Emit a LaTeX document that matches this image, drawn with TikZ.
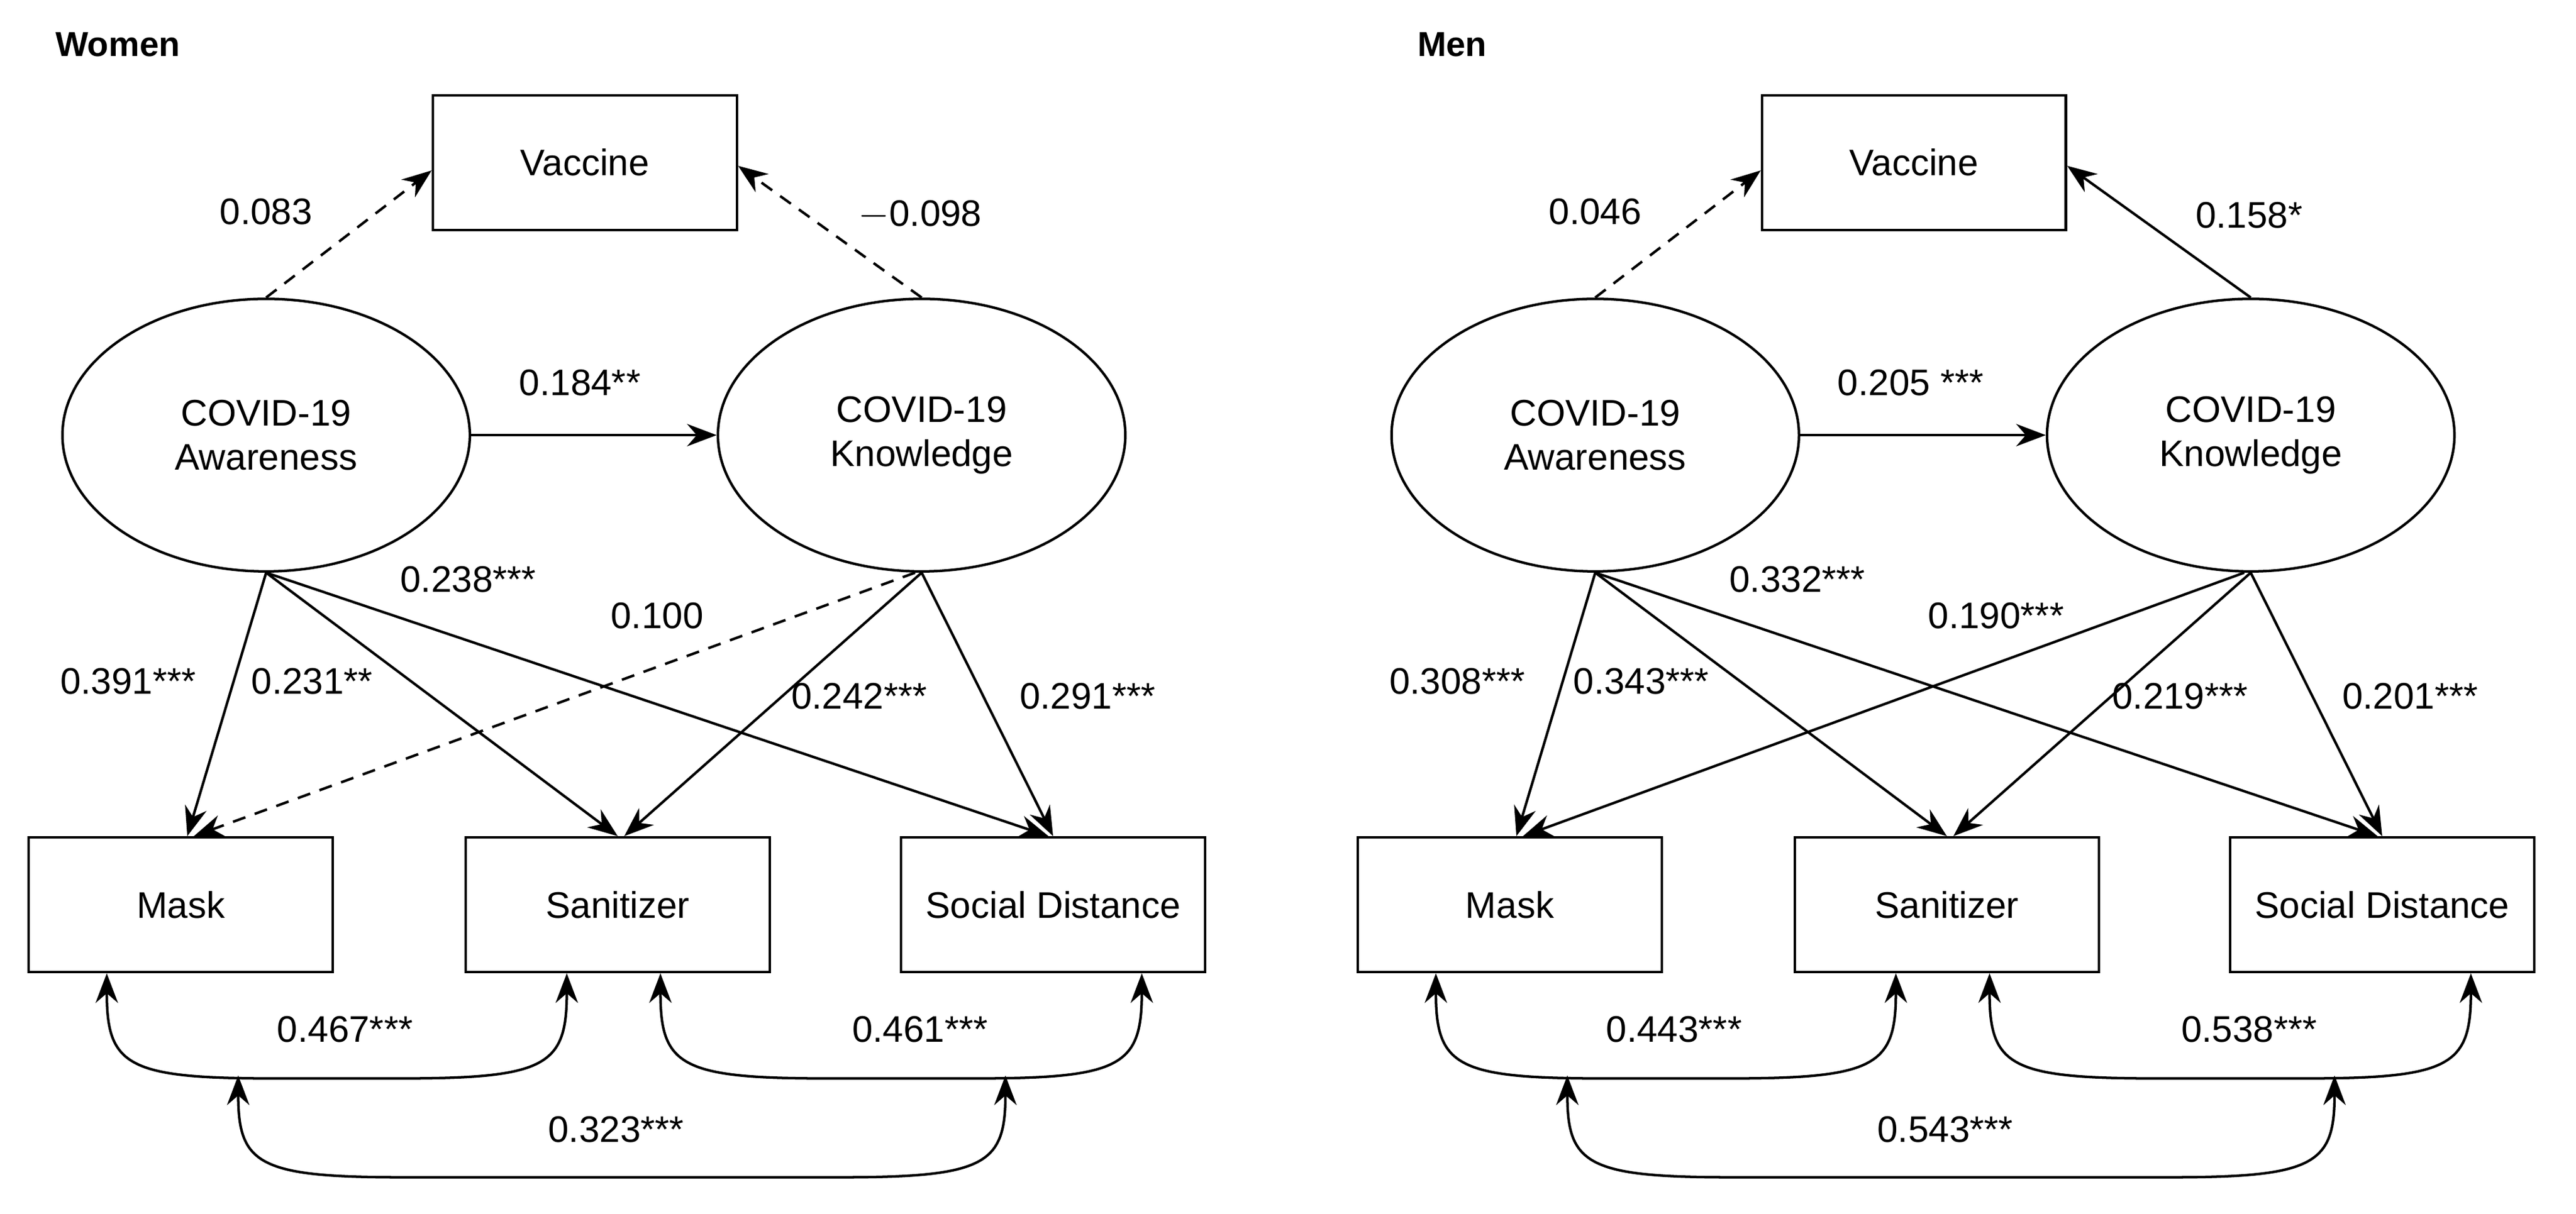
\documentclass[tikz,border=0pt]{standalone}
\usepackage{fontspec}
\setmainfont{Liberation Sans}
\usetikzlibrary{shapes.geometric,arrows.meta}
\begin{document}
\begin{tikzpicture}[x=0.25mm,y=-0.25mm,
  font=\fontsize{16}{19}\selectfont,
  every path/.style={line width=1.1pt},
  box/.style={draw,minimum width=46.25mm,minimum height=20.5mm,inner sep=0pt},
  lat/.style={draw,ellipse,minimum width=62mm,minimum height=41.5mm,align=center,inner sep=0pt},
  arr/.style={-{Stealth[length=4.5mm,width=3.4mm]}},
  dsh/.style={dashed,dash pattern=on 2mm off 1.5mm},
  cov/.style={{Stealth[length=4.5mm,width=3.4mm]}-{Stealth[length=4.5mm,width=3.4mm]}},
  lab/.style={inner sep=0pt},
  title/.style={font=\fontsize{15}{17}\selectfont\bfseries,anchor=west,inner sep=0pt}]
\useasboundingbox (0,0) rectangle (1568,739);
% ---------- Women ----------
\node[title] (tw) at (33,27) {Women};
\node[box] (wv) at (356,99) {Vaccine};
\node[lat] (wa) at (162,265) {COVID-19\\Awareness};
\node[lat] (wk) at (561,265) {COVID-19\\Knowledge};
\node[box] (wm) at (110,551) {Mask};
\node[box] (ws) at (376,551) {Sanitizer};
\node[box] (wd) at (641,551) {Social Distance};
\draw[arr,dsh] (wa.north) -- ([yshift=-1.2mm]wv.west);
\draw[arr,dsh] (wk.north) -- ([yshift=-0.5mm]wv.east);
\draw[arr] (wa.east) -- (wk.west);
\draw[arr] (wa.south) -- ([xshift=1mm]wm.north);
\draw[arr] (wa.south) -- (ws.north);
\draw[arr] (wa.south) -- ([xshift=-0.7mm]wd.north);
\draw[arr,dsh] ([xshift=-1mm]wk.south) -- ([xshift=2mm]wm.north);
\draw[arr] (wk.south) -- ([xshift=1mm]ws.north);
\draw[arr] (wk.south) -- (wd.north);
\node[lab] (l1) at (162,129) {0.083};
\node[lab] (l2) at (560,131) {$-$0.098};
\node[lab] (l3) at (353,233) {0.184**};
\node[lab] (l4) at (285,353) {0.238***};
\node[lab] (l5) at (400,375) {0.100};
\node[lab] (l6) at (78,415) {0.391***};
\node[lab] (l7) at (190,415) {0.231**};
\node[lab] (l8) at (523,424) {0.242***};
\node[lab] (l9) at (662,424) {0.291***};
\coordinate (w1a) at ([xshift=-11.25mm]wm.south);
\coordinate (w1b) at ([xshift=-7.75mm]ws.south);
\coordinate (w2a) at ([xshift=6.5mm]ws.south);
\coordinate (w2b) at ([xshift=13.5mm]wd.south);
\coordinate (w3a) at (145,655);
\coordinate (w3b) at (612,655);
\tikzset{covpath/.style 2 args={}}
\draw[cov] (w1a) .. controls ([yshift=-14mm]w1a) and ([yshift=-16mm,xshift=3mm]w1a) .. ([xshift=25mm,yshift=-16mm]w1a) -- ([xshift=-25mm,yshift=-16mm]w1b) .. controls ([yshift=-16mm,xshift=-3mm]w1b) and ([yshift=-14mm]w1b) .. (w1b);
\draw[cov] (w2a) .. controls ([yshift=-14mm]w2a) and ([yshift=-16mm,xshift=3mm]w2a) .. ([xshift=25mm,yshift=-16mm]w2a) -- ([xshift=-25mm,yshift=-16mm]w2b) .. controls ([yshift=-16mm,xshift=-3mm]w2b) and ([yshift=-14mm]w2b) .. (w2b);
\draw[cov] (w3a) .. controls ([yshift=-13.5mm]w3a) and ([yshift=-15.5mm,xshift=3mm]w3a) .. ([xshift=25mm,yshift=-15.5mm]w3a) -- ([xshift=-25mm,yshift=-15.5mm]w3b) .. controls ([yshift=-15.5mm,xshift=-3mm]w3b) and ([yshift=-13.5mm]w3b) .. (w3b);
\node[lab] (l10) at (210,627) {0.467***};
\node[lab] (l11) at (560,627) {0.461***};
\node[lab] (l12) at (375,688) {0.323***};
% ---------- Men ----------
\begin{scope}[xshift=202.25mm]
\node[title] (tm) at (53,27) {Men};
\node[box] (mv) at (356,99) {Vaccine};
\node[lat] (ma) at (162,265) {COVID-19\\Awareness};
\node[lat] (mk) at (561,265) {COVID-19\\Knowledge};
\node[box] (mm) at (110,551) {Mask};
\node[box] (ms) at (376,551) {Sanitizer};
\node[box] (md) at (641,551) {Social Distance};
\draw[arr,dsh] (ma.north) -- ([yshift=-1.2mm]mv.west);
\draw[arr] (mk.north) -- ([yshift=-0.5mm]mv.east);
\draw[arr] (ma.east) -- (mk.west);
\draw[arr] (ma.south) -- ([xshift=1mm]mm.north);
\draw[arr] (ma.south) -- (ms.north);
\draw[arr] (ma.south) -- ([xshift=-0.7mm]md.north);
\draw[arr] ([xshift=-1mm]mk.south) -- ([xshift=2mm]mm.north);
\draw[arr] (mk.south) -- ([xshift=1mm]ms.north);
\draw[arr] (mk.south) -- (md.north);
\node[lab] (m1) at (162,129) {0.046};
\node[lab] (m2) at (560,131) {0.158*};
\node[lab] (m3) at (354,233) {0.205 ***};
\node[lab] (m4) at (285,353) {0.332***};
\node[lab] (m5) at (406,375) {0.190***};
\node[lab] (m6) at (78,415) {0.308***};
\node[lab] (m7) at (190,415) {0.343***};
\node[lab] (m8) at (518,424) {0.219***};
\node[lab] (m9) at (658,424) {0.201***};
\coordinate (m1a) at ([xshift=-11.25mm]mm.south);
\coordinate (m1b) at ([xshift=-7.75mm]ms.south);
\coordinate (m2a) at ([xshift=6.5mm]ms.south);
\coordinate (m2b) at ([xshift=13.5mm]md.south);
\coordinate (m3a) at (145,655);
\coordinate (m3b) at (612,655);
\draw[cov] (m1a) .. controls ([yshift=-14mm]m1a) and ([yshift=-16mm,xshift=3mm]m1a) .. ([xshift=25mm,yshift=-16mm]m1a) -- ([xshift=-25mm,yshift=-16mm]m1b) .. controls ([yshift=-16mm,xshift=-3mm]m1b) and ([yshift=-14mm]m1b) .. (m1b);
\draw[cov] (m2a) .. controls ([yshift=-14mm]m2a) and ([yshift=-16mm,xshift=3mm]m2a) .. ([xshift=25mm,yshift=-16mm]m2a) -- ([xshift=-25mm,yshift=-16mm]m2b) .. controls ([yshift=-16mm,xshift=-3mm]m2b) and ([yshift=-14mm]m2b) .. (m2b);
\draw[cov] (m3a) .. controls ([yshift=-13.5mm]m3a) and ([yshift=-15.5mm,xshift=3mm]m3a) .. ([xshift=25mm,yshift=-15.5mm]m3a) -- ([xshift=-25mm,yshift=-15.5mm]m3b) .. controls ([yshift=-15.5mm,xshift=-3mm]m3b) and ([yshift=-13.5mm]m3b) .. (m3b);
\node[lab] (m10) at (210,627) {0.443***};
\node[lab] (m11) at (560,627) {0.538***};
\node[lab] (m12) at (375,688) {0.543***};
\end{scope}
\end{tikzpicture}
\end{document}
